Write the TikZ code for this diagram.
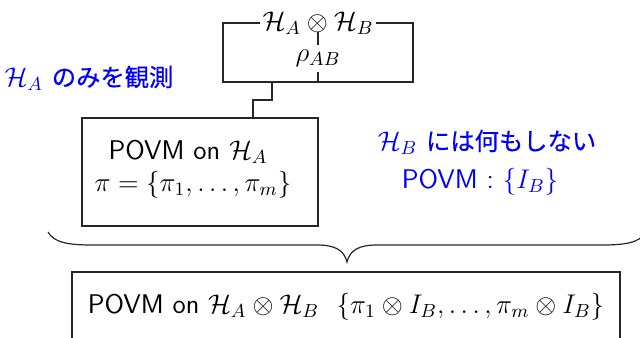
\RequirePackage{fix-cm}
\documentclass[tikz,border=0pt]{standalone}
\usepackage{fontspec}
\newfontfamily\jpfont[Scale=0.9,FakeBold=0.5]{Noto Sans CJK JP}
\begin{document}
\begin{tikzpicture}[x=0.5pt,y=-0.5pt,
  every node/.style={font=\fontsize{13.5}{16}\selectfont\sffamily},
  wire/.style={line width=0.6pt,draw=black!85},
  note/.style={text=blue,inner sep=1pt},
  txt/.style={inner sep=1pt}]
\useasboundingbox (0,0) rectangle (640,337);

% joint state: Hilbert space label on top, density operator inside
\node[txt] (hab) at (318,23) {$\mathcal{H}_A\otimes\mathcal{H}_B$};
\node[txt,inner ysep=2.5pt] (rho) at (318,58.5) {$\rho_{AB}$};
\coordinate (tl) at (223,23);
\coordinate (tr) at (413,23);
\coordinate (bl) at (223,82);
\coordinate (br) at (413,82);
\coordinate (bm) at (318,82);
\draw[wire] (hab.west) -- (tl) -- (bl) -- (br) -- (tr) -- (hab.east);
\draw[wire] ([yshift=-1pt]hab.base) -- (rho.north);
\draw[wire] (rho.south) -- (bm);

% measurement on subsystem A
\node[wire,draw,minimum width=118pt,minimum height=54pt,inner sep=0pt] (boxA) at (200,172) {};
\node[txt] (povmA) at (188,152) {POVM on $\mathcal{H}_A$};
\node[txt] (piset) at (193,185) {$\pi=\{\pi_1,\ldots,\pi_m\}$};
\coordinate (s1) at (272,82);
\coordinate (s2) at (272,100);
\coordinate (s3) at (253,100);
\draw[wire] (s1) -- (s2) -- (s3) -- (s3 |- boxA.north);

% annotations
\node[note] (noteA) at (89,78) {$\mathcal{H}_A$ {\jpfont のみを観測}};
\node[note] (noteB) at (487,142) {$\mathcal{H}_B$ {\jpfont には何もしない}};
\node[note] (povmB) at (480,182) {POVM : $\{I_B\}$};

% brace combining both sides
\coordinate (bra) at (48,232);
\coordinate (brtip) at (347,262);
\coordinate (brb) at (646,232);
\draw[wire] (bra) .. controls (54,243) and (70,245) .. (92,245)
  -- (317,245) .. controls (335,245) and (344,250) .. (brtip)
  .. controls (350,250) and (359,245) .. (377,245)
  -- (602,245) .. controls (624,245) and (640,243) .. (brb);

% resulting POVM on the joint space
\node[wire,draw,minimum width=274pt,minimum height=35pt,inner sep=0pt] (boxAB) at (346,307) {};
\node[txt] (povmAB) at (346,307) {POVM on $\mathcal{H}_A\otimes\mathcal{H}_B$\ \ $\{\pi_1\otimes I_B,\ldots,\pi_m\otimes I_B\}$};
\end{tikzpicture}
\end{document}
